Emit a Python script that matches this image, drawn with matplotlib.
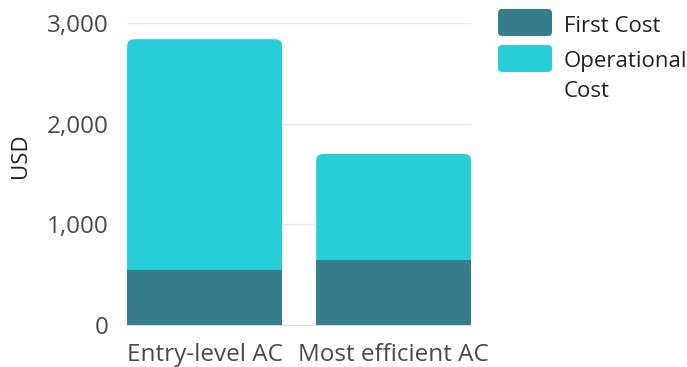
import matplotlib
matplotlib.use("Agg")
import matplotlib.pyplot as plt
from matplotlib.patches import FancyBboxPatch
from matplotlib.ticker import FuncFormatter

categories = ["Entry-level AC", "Most efficient AC"]
first_cost = [550, 650]
operational_cost = [2290, 1050]
series_labels = ["First Cost", "Operational\nCost"]

c_first = "#367e8e"
c_oper = "#27ced8"
colors = [c_first, c_oper]
txt = "#4a4a4a"

plt.rcParams["font.family"] = ["Open Sans", "DejaVu Sans"]

fig = plt.figure(figsize=(6.87, 3.67), dpi=100)
ax = fig.add_axes([0.185, 0.114, 0.501, 0.823])

x = list(range(len(categories)))
w = 0.82
b1 = ax.bar(x, first_cost, w, color=c_first, zorder=3)
b2 = ax.bar(x, operational_cost, w, bottom=first_cost, color=c_oper, zorder=3)

ax.set_xlim(-0.41, 1.41)
ax.set_ylim(0, 3000)
ax.set_yticks([0, 1000, 2000, 3000])
ax.yaxis.set_major_formatter(FuncFormatter(lambda v, p: f"{int(v):,}"))
ax.set_xticks(x)
ax.set_xticklabels(categories)
ax.tick_params(length=0, labelsize=17.5, colors=txt)
ax.tick_params(axis="y", pad=13.5)
ax.tick_params(axis="x", pad=13)

fig.text(20 / 687, 1 - 156 / 367, "USD", rotation=90, fontsize=16,
         color="#222222", ha="center", va="center")

for s in ["top", "right", "left"]:
    ax.spines[s].set_visible(False)
ax.spines["bottom"].set_color("#dddddd")
ax.grid(axis="y", color="#e8e8e8", linewidth=1, zorder=0)

# rounded top corners for the stacks
fig.canvas.draw()
x_px = ax.transData.transform([(1, 0)])[0][0] - ax.transData.transform([(0, 0)])[0][0]
y_px = ax.transData.transform([(0, 1000)])[0][1] - ax.transData.transform([(0, 0)])[0][1]
aspect = (1000 / y_px) / (1 / x_px)
r = 7 / x_px
for rect in b2:
    clip = FancyBboxPatch((rect.get_x(), 0), rect.get_width(),
                          rect.get_y() + rect.get_height(),
                          boxstyle=f"round,pad=0,rounding_size={r}",
                          mutation_aspect=aspect, transform=ax.transData,
                          facecolor="none", edgecolor="none")
    ax.add_patch(clip)
    rect.set_clip_path(clip)

# legend drawn by hand: handle lines up with the first line of its label
W, H = 687, 367
hx, hw, hh = 498, 54, 27
rows = [9, 45]
for lab, col, top in zip(series_labels, colors, rows):
    p = FancyBboxPatch((hx / W, 1 - (top + hh) / H), hw / W, hh / H,
                       boxstyle="round,pad=0,rounding_size=0.006",
                       mutation_aspect=W / H, transform=fig.transFigure,
                       facecolor=col, edgecolor="none")
    fig.add_artist(p)
    fig.text(564 / W, 1 - (top + hh / 2 - 7) / H, lab, fontsize=16,
             color="#222222", ha="left", va="top", linespacing=1.55)

fig.savefig("out.png", dpi=100)
